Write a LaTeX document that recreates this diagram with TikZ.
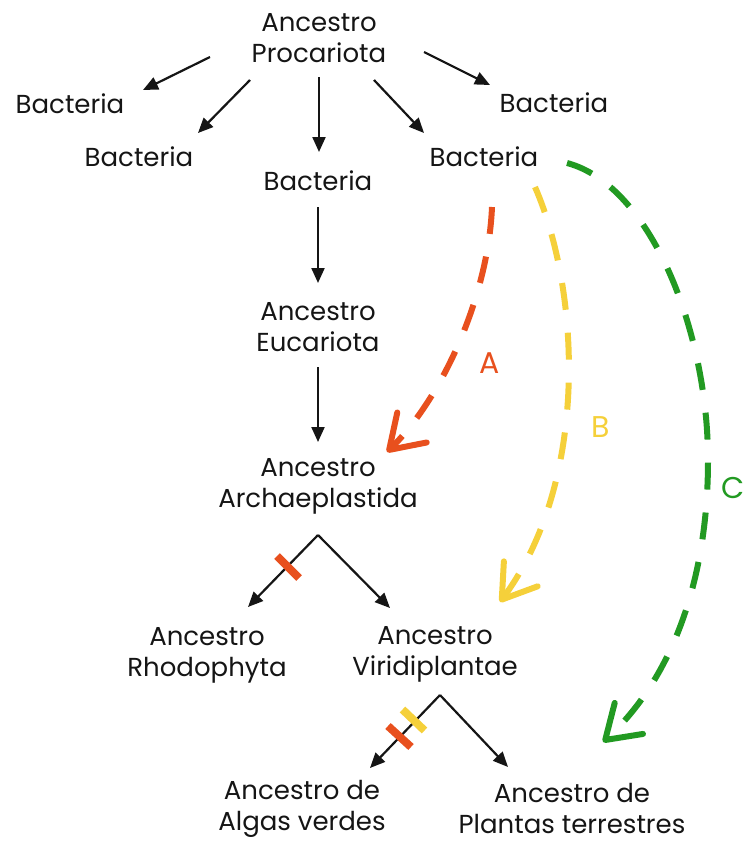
\documentclass[tikz,border=0pt]{standalone}
\usepackage{fontspec}
\setmainfont{Poppins}
\usetikzlibrary{arrows.meta}
\definecolor{ared}{HTML}{E8501E}
\definecolor{ayel}{HTML}{F5D03A}
\definecolor{agrn}{HTML}{229A22}
\definecolor{ink}{HTML}{151515}
\begin{document}
\begin{tikzpicture}[x=1pt,y=-1pt,
  txt/.style={align=center,font=\fontsize{26}{31}\selectfont,inner sep=0pt,text=ink},
  lbl/.style={font=\fontsize{30}{30}\selectfont,inner sep=0pt},
  blk/.style={draw=ink,line width=2.2pt,-{Triangle[length=15pt,width=13pt]}},
  dsh/.style={line width=6pt,dash pattern=on 27pt off 23pt,
    -{Straight Barb[length=32pt,width=42pt,round]}},
  barmark/.style={line width=8pt}]
\useasboundingbox (0,0) rectangle (747,843);
% text nodes
\node[txt] (proc) at (319,38) {Ancestro\\Procariota};
\node[txt] (b1) at (70,104) {Bacteria};
\node[txt] (b2) at (139,157) {Bacteria};
\node[txt] (b3) at (318,181) {Bacteria};
\node[txt] (b4) at (484,157) {Bacteria};
\node[txt] (b5) at (554,103) {Bacteria};
\node[txt] (euc) at (318,327) {Ancestro\\Eucariota};
\node[txt] (arch) at (318,486) {Ancestro\\Archaeplastida};
\node[txt] (rho) at (207,655) {Ancestro\\Rhodophyta};
\node[txt] (vir) at (435,654) {Ancestro\\Viridiplantae};
\node[txt] (alg) at (302,809) {Ancestro de\\Algas verdes};
\node[txt] (pla) at (572,808) {Ancestro de\\Plantas terrestres};
% arrow end points
\coordinate (p1s) at (210,57);  \coordinate (p1e) at (143,90);
\coordinate (p2s) at (250,80);  \coordinate (p2e) at (198,133);
\coordinate (p3s) at (319,77);  \coordinate (p3e) at (319,152);
\coordinate (p4s) at (374,80);  \coordinate (p4e) at (424,133);
\coordinate (p5s) at (424,52);  \coordinate (p5e) at (490,85);
\coordinate (b3s) at (318,207); \coordinate (euct) at (318,283);
\coordinate (eucs) at (318,367); \coordinate (archt) at (318,442);
\coordinate (f1) at (318,535); \coordinate (rhot) at (248,607); \coordinate (virt) at (390,608);
\coordinate (f2) at (440,695); \coordinate (algt) at (370,768); \coordinate (plat) at (508,767);
% black arrows
\draw[blk] (p1s) -- (p1e);
\draw[blk] (p2s) -- (p2e);
\draw[blk] (p3s) -- (p3e);
\draw[blk] (p4s) -- (p4e);
\draw[blk] (p5s) -- (p5e);
\draw[blk] (b3s) -- (euct);
\draw[blk] (eucs) -- (archt);
\draw[blk] (f1) -- (rhot);
\draw[blk] (f1) -- (virt);
\draw[blk] (f2) -- (algt);
\draw[blk] (f2) -- (plat);
% marks on branches
\draw[barmark,ared] (277,556) -- (299,578);
\draw[barmark,ayel] (402.5,709.5) -- (424.5,730.5);
\draw[barmark,ared] (388,726) -- (411,747);
% dashed transfers
\coordinate (ra) at (492,207); \coordinate (ya) at (535,187); \coordinate (ga) at (567,163);
\coordinate (re) at (387,452); \coordinate (ye) at (500,602); \coordinate (ge) at (603,742);
\draw[dsh,ared] (ra) .. controls (488,300) and (440,400) .. (re);
\draw[dsh,ayel] (ya) .. controls (580,290) and (590,480) .. (ye);
\draw[dsh,agrn] (ga) .. controls (650,185) and (708,330) .. (708,460)
  .. controls (708,600) and (660,690) .. (ge);
\node[lbl,text=ared] (la) at (490,363) {A};
\node[lbl,text=ayel] (lb) at (601,427) {B};
\node[lbl,text=agrn] (lc) at (733,488) {C};
\end{tikzpicture}
\end{document}
